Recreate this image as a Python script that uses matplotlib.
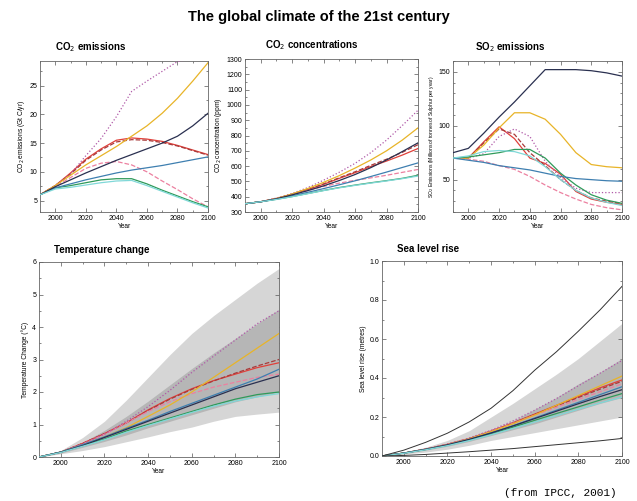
import numpy as np
import matplotlib
matplotlib.use("Agg")
import matplotlib.pyplot as plt
from matplotlib.ticker import MultipleLocator, FormatStrFormatter

plt.rcParams["font.family"] = ["Liberation Sans", "DejaVu Sans"]

years = [1990, 2000, 2010, 2020, 2030, 2040, 2050, 2060, 2070, 2080, 2090, 2100]

# scenario order: A1B, A1B (dashed), A1T, A1FI, A2, B1, B2, IS92a, cyan
names = ["A1B", "A1B-alt", "A1T", "A1FI", "A2", "B1", "B2", "IS92a", "B1-alt"]
colors = ["#e0403a", "#a83a3a", "#ec80a0", "#b05aa8", "#e8b428", "#2f9a5a", "#3e7fb0", "#2a3050", "#80d8d8"]
styles = ["-", "--", "--", ":", "-", "-", "-", "-", "-"]

co2_emis = {
    "A1B":     [6.0, 7.6, 9.8, 12.2, 14.0, 15.5, 15.9, 15.7, 15.3, 14.6, 13.8, 13.0],
    "A1B-alt": [6.0, 7.6, 9.6, 12.0, 13.8, 15.2, 15.6, 15.5, 15.1, 14.5, 13.7, 12.9],
    "A1T":     [6.0, 7.4, 9.0, 10.6, 11.5, 11.8, 11.2, 10.0, 8.4, 6.9, 5.3, 3.9],
    "A1FI":    [6.0, 7.6, 9.6, 12.8, 15.8, 19.6, 24.0, 25.8, 27.5, 29.2, 29.8, 29.9],
    "A2":      [6.0, 7.6, 9.4, 11.2, 12.8, 14.4, 16.2, 18.0, 20.2, 22.8, 25.8, 29.0],
    "B1":      [6.0, 7.2, 7.6, 8.1, 8.6, 8.8, 8.8, 7.9, 6.8, 5.8, 4.8, 3.9],
    "B2":      [6.0, 7.2, 7.9, 8.6, 9.2, 9.8, 10.3, 10.7, 11.1, 11.6, 12.1, 12.6],
    "IS92a":   [6.0, 7.4, 8.6, 9.8, 10.9, 12.0, 13.0, 14.0, 15.0, 16.2, 18.0, 20.2],
    "B1-alt":  [6.0, 7.0, 7.3, 7.7, 8.1, 8.4, 8.5, 7.6, 6.6, 5.6, 4.6, 3.7],
}

co2_conc = {
    "A1B":     [354, 367, 389, 417, 446, 481, 520, 557, 597, 633, 672, 715],
    "A1B-alt": [354, 367, 388, 416, 447, 484, 524, 563, 605, 645, 690, 740],
    "A1T":     [354, 367, 388, 414, 441, 467, 489, 507, 523, 540, 559, 578],
    "A1FI":    [354, 367, 391, 421, 460, 508, 560, 618, 688, 770, 865, 965],
    "A2":      [354, 367, 388, 418, 454, 494, 538, 587, 640, 700, 770, 850],
    "B1":      [354, 367, 383, 401, 421, 441, 460, 476, 491, 505, 520, 540],
    "B2":      [354, 367, 385, 406, 429, 453, 478, 504, 532, 561, 591, 621],
    "IS92a":   [354, 367, 386, 412, 440, 471, 506, 545, 590, 640, 695, 752],
    "B1-alt":  [354, 367, 382, 400, 420, 440, 458, 474, 489, 503, 518, 535],
}

so2_emis = {
    "A1B":     [70, 70, 85, 99, 88, 70, 65, 55, 39, 32, 29, 27],
    "A1B-alt": [70, 70, 84, 97, 92, 75, 63, 50, 40, 33, 30, 28],
    "A1T":     [70, 69, 67, 63, 59.5, 53, 45, 38, 32, 27, 24, 22],
    "A1FI":    [70, 70, 74, 90, 97, 90, 67, 52, 42, 38, 38, 38],
    "A2":      [70, 70, 82, 98, 112, 112, 106, 92, 75, 64, 62, 61],
    "B1":      [70, 71, 73, 75, 78, 78, 70, 56, 45, 36, 31, 28],
    "B2":      [70, 68, 66, 63, 61, 59, 56, 53, 51, 50, 49, 48.5],
    "IS92a":   [75, 79, 93, 108, 122, 137, 152, 152, 152, 151, 149, 146],
    "B1-alt":  [70, 72, 76, 77, 76, 72, 62, 50, 40, 33, 29, 26],
}

temp = {
    "A1B":     [0, 0.15, 0.42, 0.72, 1.05, 1.45, 1.8, 2.1, 2.35, 2.55, 2.75, 2.9],
    "A1B-alt": [0, 0.15, 0.42, 0.72, 1.05, 1.43, 1.78, 2.08, 2.34, 2.58, 2.8, 3.0],
    "A1T":     [0, 0.15, 0.4, 0.7, 1.05, 1.4, 1.7, 1.95, 2.15, 2.3, 2.45, 2.55],
    "A1FI":    [0, 0.15, 0.4, 0.7, 1.1, 1.55, 2.05, 2.6, 3.1, 3.6, 4.1, 4.5],
    "A2":      [0, 0.15, 0.37, 0.62, 0.9, 1.25, 1.6, 2.0, 2.45, 2.9, 3.35, 3.8],
    "B1":      [0, 0.15, 0.35, 0.55, 0.8, 1.0, 1.2, 1.4, 1.6, 1.78, 1.92, 2.0],
    "B2":      [0, 0.15, 0.38, 0.62, 0.88, 1.13, 1.4, 1.65, 1.9, 2.15, 2.4, 2.7],
    "IS92a":   [0, 0.15, 0.35, 0.6, 0.85, 1.1, 1.35, 1.6, 1.85, 2.1, 2.3, 2.5],
    "B1-alt":  [0, 0.14, 0.33, 0.53, 0.76, 0.97, 1.17, 1.37, 1.56, 1.72, 1.85, 1.95],
}
temp_outer_hi = [0, 0.2, 0.6, 1.1, 1.75, 2.45, 3.15, 3.8, 4.35, 4.85, 5.35, 5.8]
temp_outer_lo = [0, 0.1, 0.2, 0.32, 0.47, 0.62, 0.78, 0.92, 1.1, 1.25, 1.32, 1.38]
temp_inner_hi = [0, 0.17, 0.45, 0.82, 1.25, 1.72, 2.22, 2.72, 3.2, 3.65, 4.1, 4.55]
temp_inner_lo = [0, 0.12, 0.3, 0.48, 0.68, 0.9, 1.1, 1.3, 1.5, 1.7, 1.85, 2.0]

sea = {
    "A1B":     [0, 0.015, 0.035, 0.06, 0.09, 0.128, 0.17, 0.215, 0.26, 0.305, 0.35, 0.39],
    "A1B-alt": [0, 0.015, 0.035, 0.06, 0.09, 0.128, 0.169, 0.213, 0.257, 0.3, 0.343, 0.383],
    "A1T":     [0, 0.015, 0.035, 0.06, 0.09, 0.127, 0.168, 0.21, 0.25, 0.29, 0.33, 0.37],
    "A1FI":    [0, 0.015, 0.035, 0.06, 0.092, 0.132, 0.18, 0.235, 0.295, 0.36, 0.425, 0.49],
    "A2":      [0, 0.015, 0.034, 0.058, 0.088, 0.125, 0.165, 0.21, 0.26, 0.31, 0.36, 0.41],
    "B1":      [0, 0.015, 0.033, 0.055, 0.082, 0.114, 0.148, 0.183, 0.218, 0.252, 0.287, 0.32],
    "B2":      [0, 0.015, 0.034, 0.057, 0.085, 0.118, 0.155, 0.195, 0.235, 0.275, 0.315, 0.355],
    "IS92a":   [0, 0.015, 0.034, 0.057, 0.085, 0.118, 0.154, 0.192, 0.23, 0.268, 0.305, 0.34],
    "B1-alt":  [0, 0.014, 0.032, 0.053, 0.079, 0.109, 0.141, 0.174, 0.207, 0.24, 0.272, 0.302],
}
sea_max = [0, 0.03, 0.07, 0.117, 0.175, 0.245, 0.335, 0.44, 0.535, 0.64, 0.75, 0.87]
sea_min = [0, 0.003, 0.008, 0.015, 0.022, 0.03, 0.038, 0.048, 0.058, 0.068, 0.078, 0.09]
sea_outer_hi = [0, 0.02, 0.045, 0.08, 0.13, 0.2, 0.27, 0.345, 0.42, 0.5, 0.59, 0.68]
sea_outer_lo = [0, 0.01, 0.02, 0.035, 0.055, 0.08, 0.1, 0.12, 0.14, 0.16, 0.18, 0.2]
sea_inner_hi = [0, 0.015, 0.035, 0.06, 0.09, 0.13, 0.18, 0.24, 0.3, 0.37, 0.43, 0.5]
sea_inner_lo = [0, 0.012, 0.03, 0.05, 0.075, 0.105, 0.135, 0.165, 0.2, 0.235, 0.27, 0.3]

W, H = 637, 501
fig = plt.figure(figsize=(W / 100, H / 100), dpi=100)


def box(l, t, r, b):
    # pixel box -> figure fraction
    return [l / W, 1 - b / H, (r - l) / W, (b - t) / H]


def style(ax, title, ylabel, tx=15):
    ax.set_xlim(1990, 2100)
    ax.set_xticks(range(2000, 2101, 20))
    ax.xaxis.set_minor_locator(MultipleLocator(10))
    ax.tick_params(which="both", direction="in", top=True, right=True,
                   labelsize=5, width=0.5, color="#555555", pad=2)
    ax.tick_params(which="major", length=3)
    ax.tick_params(which="minor", length=1.5)
    for sp in ax.spines.values():
        sp.set_linewidth(0.6)
        sp.set_color("#666666")
    ax.set_xlabel("Year", fontsize=4.8, labelpad=1)
    ax.set_ylabel(ylabel, fontsize=4.8, labelpad=2)
    ax.annotate(title, xy=(0, 1), xycoords="axes fraction", xytext=(tx, 7),
                textcoords="offset pixels", fontsize=7, fontweight="bold",
                ha="left", va="bottom")


def draw_lines(ax, data, lw=0.9):
    for n, c, ls in zip(names, colors, styles):
        ax.plot(years, data[n], color=c, ls=ls, lw=lw, zorder=3)


ax1 = fig.add_axes(box(40, 61, 208, 212))
draw_lines(ax1, co2_emis)
ax1.set_ylim(3, 29.3)
ax1.set_yticks([5, 10, 15, 20, 25])
ax1.yaxis.set_minor_locator(MultipleLocator(2.5))
style(ax1, "CO$_2$ emissions", "CO$_2$ emissions (Gt C/yr)")

ax2 = fig.add_axes(box(245, 59, 418, 212))
draw_lines(ax2, co2_conc)
ax2.set_ylim(300, 1300)
ax2.set_yticks(range(300, 1301, 100))
ax2.yaxis.set_minor_locator(MultipleLocator(50))
style(ax2, "CO$_2$ concentrations", "CO$_2$ concentration (ppm)", tx=20)

ax3 = fig.add_axes(box(453, 61, 622, 212))
draw_lines(ax3, so2_emis)
ax3.set_ylim(20, 160)
ax3.set_yticks([50, 100, 150])
ax3.yaxis.set_minor_locator(MultipleLocator(10))
style(ax3, "SO$_2$ emissions",
      "SO$_2$ Emissions (Millions of tonnes of Sulphur per year)", tx=22)
ax3.yaxis.label.set_fontsize(3.6)

ax4 = fig.add_axes(box(39, 262, 279, 457))
ax4.fill_between(years, temp_outer_lo, temp_outer_hi, color="#d6d6d6", lw=0, zorder=1)
ax4.fill_between(years, temp_inner_lo, temp_inner_hi, color="#b6b6b6", lw=0, zorder=2)
draw_lines(ax4, temp, lw=0.9)
ax4.set_ylim(0, 6)
ax4.set_yticks(range(0, 7))
ax4.yaxis.set_minor_locator(MultipleLocator(0.5))
style(ax4, "Temperature change", "Temperature Change (°C)")

ax5 = fig.add_axes(box(382, 261, 622, 456))
ax5.fill_between(years, sea_outer_lo, sea_outer_hi, color="#d6d6d6", lw=0, zorder=1)
ax5.fill_between(years, sea_inner_lo, sea_inner_hi, color="#b6b6b6", lw=0, zorder=2)
draw_lines(ax5, sea, lw=0.9)
ax5.plot(years, sea_max, color="#333333", lw=0.7, zorder=3)
ax5.plot(years, sea_min, color="#333333", lw=0.7, zorder=3)
ax5.set_ylim(0, 1.0)
ax5.set_yticks(np.arange(0, 1.01, 0.2))
ax5.yaxis.set_major_formatter(FormatStrFormatter("%.1f"))
ax5.yaxis.set_minor_locator(MultipleLocator(0.1))
style(ax5, "Sea level rise", "Sea level rise (metres)")

fig.text(0.5, 1 - 17 / H, "The global climate of the 21st century",
         fontsize=10.5, fontweight="bold", ha="center", va="center")
fig.text(617 / W, 1 - 493 / H, "(from IPCC, 2001)", family="Liberation Mono",
         fontsize=8, ha="right", va="center")

fig.savefig("out.png", dpi=100)
